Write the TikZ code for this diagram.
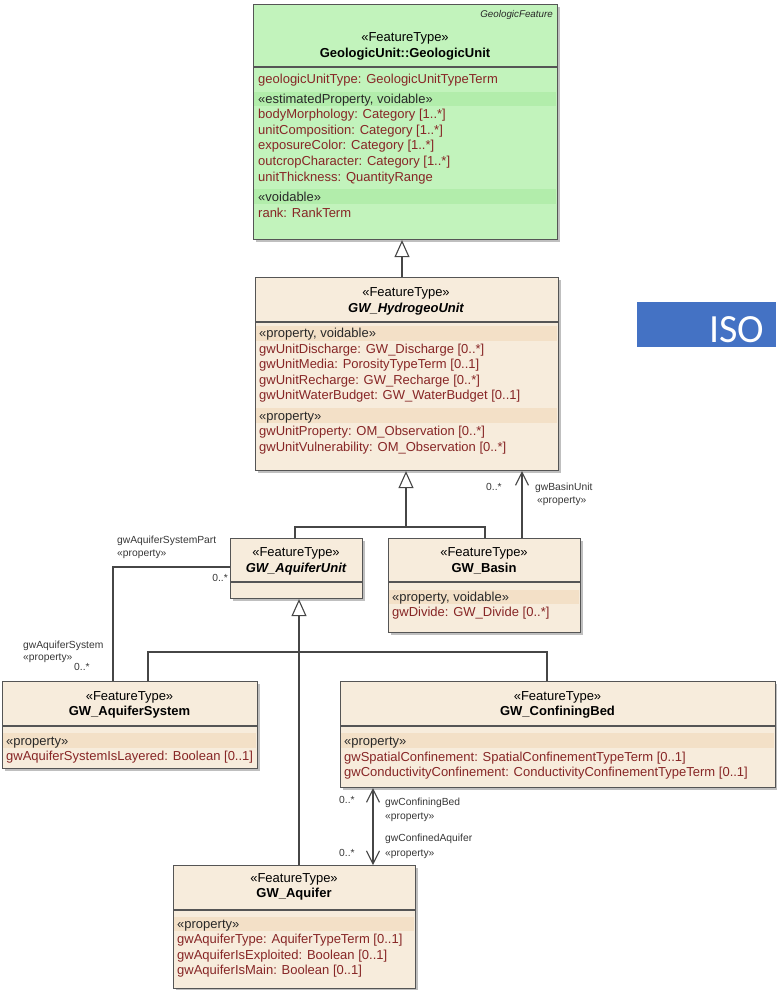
\documentclass[tikz,border=0pt]{standalone}
\usepackage{fontspec}
\setmainfont{Liberation Sans}
\newfontfamily\isofont{Carlito}
\usetikzlibrary{arrows.meta,shadows}
\definecolor{boxline}{RGB}{85,85,85}
\definecolor{linecol}{RGB}{70,70,70}
\definecolor{greenfill}{RGB}{194,243,188}
\definecolor{greenband}{RGB}{178,237,171}
\definecolor{beigefill}{RGB}{247,236,220}
\definecolor{beigeband}{RGB}{243,224,199}
\definecolor{attrred}{RGB}{135,38,38}
\definecolor{stereo}{RGB}{40,40,40}
\definecolor{lblcol}{RGB}{55,55,55}
\definecolor{isoblue}{RGB}{68,114,196}
\tikzset{
  umlbox/.style={draw=boxline, line width=1.1pt, inner sep=0pt, anchor=north west,
    drop shadow={shadow xshift=2pt, shadow yshift=-2pt, opacity=0.25, fill=black}},
  greenbox/.style={umlbox, fill=greenfill},
  beigebox/.style={umlbox, fill=beigefill},
  sepline/.style={draw=boxline, line width=1.1pt},
  attr/.style={anchor=base west, inner sep=0pt, text=attrred, font=\fontsize{13}{15}\selectfont},
  ster/.style={anchor=base west, inner sep=0pt, text=stereo, font=\fontsize{13}{15}\selectfont},
  ttl/.style={anchor=base, inner sep=0pt, text=black, font=\fontsize{13}{15}\selectfont},
  ttlname/.style={anchor=base, inner sep=0pt, text=black, font=\fontsize{13}{15}\selectfont\bfseries},
  ttlabs/.style={anchor=base, inner sep=0pt, text=black, font=\fontsize{13}{15}\selectfont\bfseries\itshape},
  lbl/.style={anchor=base west, inner sep=0pt, text=lblcol, font=\fontsize{10.3}{12}\selectfont},
  conn/.style={draw=linecol, line width=1.1pt},
  gen/.style={conn, -{Triangle[length=17pt,width=15pt,fill=white]}},
  nav/.style={conn, -{Straight Barb[length=13pt,width=13pt]}},
  navboth/.style={conn, {Straight Barb[length=13pt,width=13pt]}-{Straight Barb[length=13pt,width=13pt]}},
}
\begin{document}
\begin{tikzpicture}[x=1pt,y=-1pt]
\useasboundingbox (0,0) rectangle (776,990);

% ---------- ISO box ----------
\fill[isoblue] (637,302) rectangle (776,347);
\node[anchor=base west, inner sep=0pt, text=white, font=\isofont\fontsize{40}{44}\selectfont] (iso) at (709,342) {ISO};

% ---------- GeologicUnit ----------
\node[greenbox, minimum width=304pt, minimum height=235pt] (gu) at (253,4) {};
\fill[greenband] (254,92) rectangle (556,106);
\fill[greenband] (254,189) rectangle (556,204);
\draw[sepline] (253,67) -- (557,67);
\node[anchor=base east, inner sep=0pt, text=stereo, font=\fontsize{9.8}{12}\selectfont\itshape] (guf) at (553,18) {GeologicFeature};
\node[ttl] (gus) at (405,42) {«FeatureType»};
\node[ttlname] (gun) at (405,57) {GeologicUnit::GeologicUnit};
\node[attr] (gu1) at (258,83) {geologicUnitType: GeologicUnitTypeTerm};
\node[ster] (gu2) at (258,103) {«estimatedProperty, voidable»};
\node[attr] (gu3) at (258,118.6) {bodyMorphology: Category [1..*]};
\node[attr] (gu4) at (258,134.2) {unitComposition: Category [1..*]};
\node[attr] (gu5) at (258,149.8) {exposureColor: Category [1..*]};
\node[attr] (gu6) at (258,165.4) {outcropCharacter: Category [1..*]};
\node[attr] (gu7) at (258,181) {unitThickness: QuantityRange};
\node[ster] (gu8) at (258,201) {«voidable»};
\node[attr] (gu9) at (258,217) {rank: RankTerm};

% ---------- GW_HydrogeoUnit ----------
\node[beigebox, minimum width=303pt, minimum height=193pt] (hu) at (255,277) {};
\fill[beigeband] (256,326) rectangle (557,341);
\fill[beigeband] (256,408) rectangle (557,423);
\draw[sepline] (255,322) -- (558,322);
\node[ttl] (hus) at (406,296) {«FeatureType»};
\node[ttlabs] (hun) at (406,312) {GW\_HydrogeoUnit};
\node[ster] (hu1) at (259,337) {«property, voidable»};
\node[attr] (hu2) at (259,353) {gwUnitDischarge: GW\_Discharge [0..*]};
\node[attr] (hu3) at (259,368.6) {gwUnitMedia: PorosityTypeTerm [0..1]};
\node[attr] (hu4) at (259,384.2) {gwUnitRecharge: GW\_Recharge [0..*]};
\node[attr] (hu5) at (259,399.8) {gwUnitWaterBudget: GW\_WaterBudget [0..1]};
\node[ster] (hu6) at (259,420) {«property»};
\node[attr] (hu7) at (259,435.6) {gwUnitProperty: OM\_Observation [0..*]};
\node[attr] (hu8) at (259,451.2) {gwUnitVulnerability: OM\_Observation [0..*]};

% ---------- GW_AquiferUnit ----------
\node[beigebox, minimum width=132pt, minimum height=60pt] (au) at (230,538) {};
\draw[sepline] (230,582) -- (362,582);
\node[ttl] (aus) at (296,556) {«FeatureType»};
\node[ttlabs] (aun) at (296,572) {GW\_AquiferUnit};

% ---------- GW_Basin ----------
\node[beigebox, minimum width=192pt, minimum height=94pt] (bs) at (388,538) {};
\fill[beigeband] (389,590) rectangle (579,604);
\draw[sepline] (388,582) -- (580,582);
\node[ttl] (bss) at (484,556) {«FeatureType»};
\node[ttlname] (bsn) at (484,572) {GW\_Basin};
\node[ster] (bs1) at (392,601) {«property, voidable»};
\node[attr] (bs2) at (392,616.6) {gwDivide: GW\_Divide [0..*]};

% ---------- GW_AquiferSystem ----------
\node[beigebox, minimum width=255pt, minimum height=87pt] (as) at (2,681) {};
\fill[beigeband] (3,733) rectangle (256,748);
\draw[sepline] (2,726) -- (257,726);
\node[ttl] (ass) at (129.5,700) {«FeatureType»};
\node[ttlname] (asn) at (129.5,715) {GW\_AquiferSystem};
\node[ster] (as1) at (6,745) {«property»};
\node[attr] (as2) at (6,760.6) {gwAquiferSystemIsLayered: Boolean [0..1]};

% ---------- GW_ConfiningBed ----------
\node[beigebox, minimum width=435pt, minimum height=106pt] (cb) at (340,681) {};
\fill[beigeband] (341,733) rectangle (774,748);
\draw[sepline] (340,726) -- (775,726);
\node[ttl] (cbs) at (557.5,700) {«FeatureType»};
\node[ttlname] (cbn) at (557.5,715) {GW\_ConfiningBed};
\node[ster] (cb1) at (344,745) {«property»};
\node[attr] (cb2) at (344,761) {gwSpatialConfinement: SpatialConfinementTypeTerm [0..1]};
\node[attr] (cb3) at (344,776.6) {gwConductivityConfinement: ConductivityConfinementTypeTerm [0..1]};

% ---------- GW_Aquifer ----------
\node[beigebox, minimum width=242pt, minimum height=123pt] (aq) at (173,865) {};
\fill[beigeband] (174,917) rectangle (414,931);
\draw[sepline] (173,910) -- (415,910);
\node[ttl] (aqs) at (294,882) {«FeatureType»};
\node[ttlname] (aqn) at (294,897) {GW\_Aquifer};
\node[ster] (aq1) at (177,928) {«property»};
\node[attr] (aq2) at (177,943.6) {gwAquiferType: AquiferTypeTerm [0..1]};
\node[attr] (aq3) at (177,959.2) {gwAquiferIsExploited: Boolean [0..1]};
\node[attr] (aq4) at (177,974.8) {gwAquiferIsMain: Boolean [0..1]};

% ---------- connectors ----------
\coordinate (g0) at (402,250);
\draw[gen] (hu.north -| g0) -- (gu.south -| g0);

\coordinate (j1) at (406,527);
\coordinate (jl) at (295,527);
\coordinate (jr) at (485,527);
\draw[gen] (j1) -- (hu.south -| j1);
\draw[conn] (au.north -| jl) -- (jl) -- (jr) -- (bs.north -| jr);

\coordinate (bu) at (522,500);
\draw[nav] (bs.north -| bu) -- (hu.south -| bu);

\coordinate (k0) at (230,567);
\coordinate (k1) at (113,567);
\draw[conn] (k0) -- (k1) -- (as.north -| k1);

\coordinate (j2) at (299,652);
\coordinate (j2l) at (148,652);
\coordinate (j2r) at (547,652);
\draw[gen] (aq.north -| j2) -- (au.south -| j2);
\draw[conn] (as.north -| j2l) -- (j2l) -- (j2r) -- (cb.north -| j2r);

\coordinate (ca) at (373,820);
\draw[navboth] (aq.north -| ca) -- (cb.south -| ca);

% ---------- connector labels ----------
\node[lbl] (l1) at (486,490.5) {0..*};
\node[lbl] (l2) at (535,490.5) {gwBasinUnit};
\node[lbl] (l3) at (537,503.5) {«property»};
\node[lbl] (l4) at (117,543.5) {gwAquiferSystemPart};
\node[lbl] (l5) at (117,556.5) {«property»};
\node[lbl, anchor=base east] (l6) at (228,581.5) {0..*};
\node[lbl] (l7) at (23,648) {gwAquiferSystem};
\node[lbl] (l8) at (23,660.5) {«property»};
\node[lbl] (l9) at (74,670.5) {0..*};
\node[lbl] (l10) at (339,803.5) {0..*};
\node[lbl] (l11) at (385,805) {gwConfiningBed};
\node[lbl] (l12) at (385,819.5) {«property»};
\node[lbl] (l13) at (385,841.5) {gwConfinedAquifer};
\node[lbl] (l14) at (385,856) {«property»};
\node[lbl] (l15) at (339,856) {0..*};
\end{tikzpicture}
\end{document}
